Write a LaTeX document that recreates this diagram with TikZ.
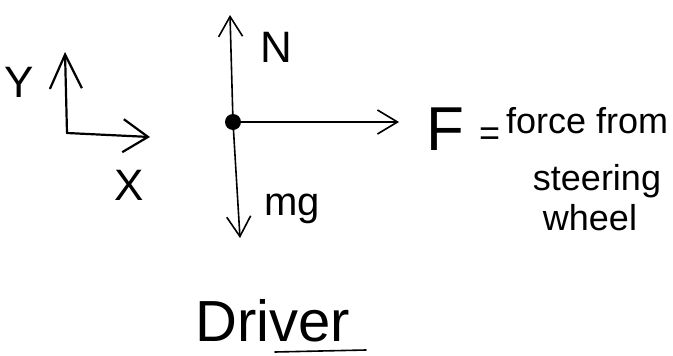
\documentclass[tikz,border=0pt]{standalone}
\usepackage{fontspec}
\setmainfont{Liberation Sans}
\usetikzlibrary{positioning,arrows.meta}

\begin{document}
\begin{tikzpicture}[x=1pt, y=-1pt, line cap=round,
    force/.style={line width=1.6pt, -{Straight Barb[length=20pt,width=24pt]}},
    hand/.style={inner sep=0pt, anchor=base west, font=\fontsize{36}{42}\selectfont}]
    \useasboundingbox (0,0) rectangle (673,356);
    % Achsen
    \coordinate (O) at (67,133);
    \coordinate (ytip) at (65,52);
    \coordinate (xtip) at (150,137);
    \draw[line width=2.2pt, -{Straight Barb[length=34pt,width=32pt]}] (O) -- (ytip);
    \draw[line width=2.2pt, -{Straight Barb[length=25pt,width=33pt]}] (O) -- (xtip);
    \node[hand, font=\fontsize{44}{50}\selectfont] (ylab) at (4,97) {Y};
    \node[hand, font=\fontsize{44}{50}\selectfont] (xlab) at (114,200) {X};
    % Koerper und Kraefte
    \node[circle, fill=black, inner sep=0pt, minimum size=16pt] (drv) at (233,122) {};
    \foreach \name/\x/\y in {Ntip/230/15, Ftip/399/122, mgtip/240/238} {
        \coordinate (\name) at (\x,\y);
        \draw[force] (drv.center) -- (\name);
    }
    \node[hand, font=\fontsize{44}{50}\selectfont] (Nlab) at (260,62) {N};
    \node[hand, font=\fontsize{40}{46}\selectfont] (mglab) at (264,215) {mg};
    \node[hand, font=\fontsize{62}{68}\selectfont] (Flab) at (426,150) {F};
    \node[hand] (eq) at (479,145) {=};
    \node[hand] (force) at (506,133) {force from};
    \node[hand, anchor=base] (steer) at (597,190) {steering};
    \node[hand, anchor=base] (wheel) at (590,230) {wheel};
    % Titel
    \node[hand, font=\fontsize{58}{64}\selectfont] (title) at (195,341) {Driver};
    \draw[line width=1.6pt] (275,352) -- (366,350);
\end{tikzpicture}
\end{document}
